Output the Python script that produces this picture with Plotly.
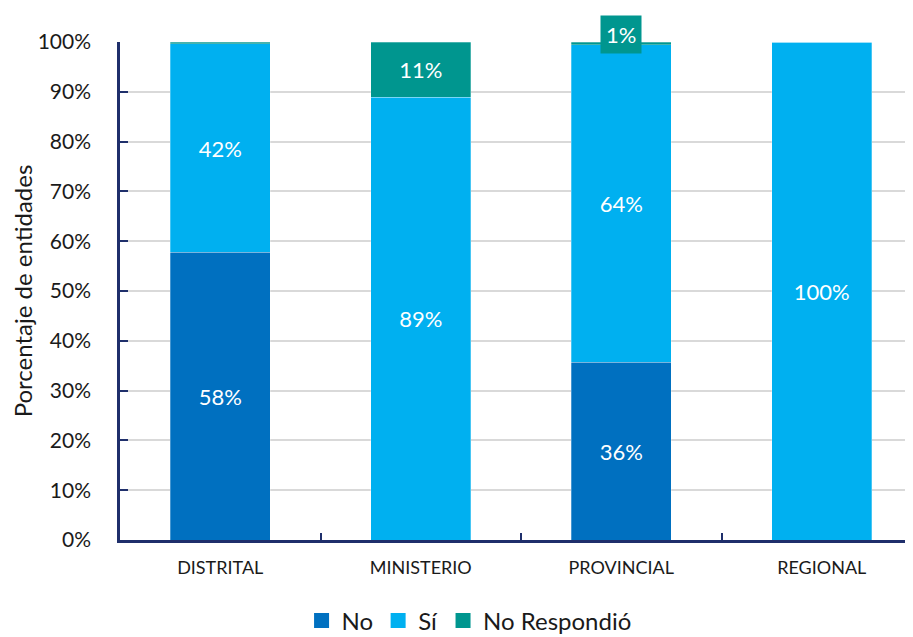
import plotly.graph_objects as go

categories = ["DISTRITAL", "MINISTERIO", "PROVINCIAL", "REGIONAL"]
no_vals = [57.8, 0.0, 35.7, 0.0]
si_vals = [41.8, 88.9, 63.7, 100.0]
nr_vals = [0.4, 11.1, 0.6, 0.0]
series_names = ["No", "Sí", "No Respondió"]
colors = ["#0070C0", "#00B0F0", "#00968F"]
yticks = [0, 10, 20, 30, 40, 50, 60, 70, 80, 90, 100]

FONT = "Lato, 'Open Sans', sans-serif"
AXIS_COLOR = "#1F2F6B"


def labels(vals):
    return [f"{round(v)}%" if v >= 5 else "" for v in vals]


fig = go.Figure()
for name, vals, col in zip(series_names, [no_vals, si_vals, nr_vals], colors):
    fig.add_trace(go.Bar(
        x=categories, y=vals, name=name, showlegend=False,
        marker=dict(color=col, line=dict(color="rgba(255,255,255,0.35)", width=0.8)),
        text=labels(vals), textposition="inside", insidetextanchor="middle",
        textfont=dict(color="white", size=22, family=FONT),
        width=0.5, hoverinfo="skip",
    ))

# legend entries with larger square swatches
for name, col in zip(series_names, colors):
    fig.add_trace(go.Scatter(
        x=[None], y=[None], mode="markers", name=name,
        marker=dict(symbol="square", size=15, color=col),
        showlegend=True, hoverinfo="skip",
    ))

# small "No Respondió" label for PROVINCIAL shown above the bar with a boxed background
idx = categories.index("PROVINCIAL")
fig.add_annotation(
    x=categories[idx], y=no_vals[idx] + si_vals[idx] + nr_vals[idx],
    text=f"{round(nr_vals[idx])}%", showarrow=False, yshift=8,
    font=dict(color="white", size=22, family=FONT),
    bgcolor=colors[2], borderpad=5,
)

fig.update_layout(
    barmode="stack",
    width=913, height=637,
    margin=dict(l=112, r=0, t=34, b=105),
    plot_bgcolor="white", paper_bgcolor="white",
    font=dict(family=FONT, color="#1a1a1a"),
    legend=dict(orientation="h", xref="container", x=0.505, xanchor="center",
                yref="container", y=0.038, yanchor="middle",
                font=dict(size=24, family=FONT), traceorder="normal",
                itemwidth=30, tracegroupgap=0),
    showlegend=True,
)
fig.update_xaxes(
    type="category", range=[-0.5, 3.495], automargin=False,
    showline=True, linecolor=AXIS_COLOR, linewidth=2.5,
    ticks="inside", tickson="boundaries", ticklen=7, tickwidth=2, tickcolor=AXIS_COLOR,
    ticklabelstandoff=10,
    tickfont=dict(size=18, family=FONT, color="#1a1a1a"),
    showgrid=False,
)
fig.update_yaxes(
    range=[0, 100], tickvals=yticks, ticktext=[f"{v}%" for v in yticks],
    automargin=False,
    showline=True, linecolor=AXIS_COLOR, linewidth=2.5,
    ticks="inside", ticklen=8, tickwidth=2, tickcolor=AXIS_COLOR,
    ticklabelstandoff=22,
    tickfont=dict(size=21, family=FONT, color="#1a1a1a"),
    showgrid=True, gridcolor="#D9D9D9", gridwidth=1.5,
    title=dict(text="Porcentaje de entidades", font=dict(size=24, family=FONT), standoff=16),
)

fig.write_html("out.html")
